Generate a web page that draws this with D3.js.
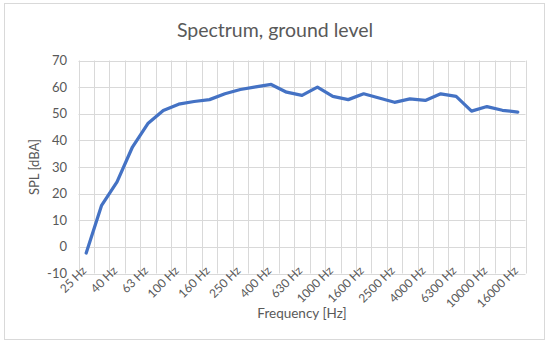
<!DOCTYPE html>
<html><head><meta charset="utf-8">
<script src="https://cdn.jsdelivr.net/npm/d3@7"></script>
<style>body{margin:0;background:#fff}svg{display:block}text{font-family:Lato,"Open Sans",sans-serif;fill:#595959}</style>
</head><body><svg id="c" width="550" height="346"></svg>
<script>
const categories = ["25 Hz","31.5 Hz","40 Hz","50 Hz","63 Hz","80 Hz","100 Hz","125 Hz","160 Hz","200 Hz","250 Hz","315 Hz","400 Hz","500 Hz","630 Hz","800 Hz","1000 Hz","1250 Hz","1600 Hz","2000 Hz","2500 Hz","3150 Hz","4000 Hz","5000 Hz","6300 Hz","8000 Hz","10000 Hz","12500 Hz","16000 Hz"];
const splValues = [-2.3,15.6,24.4,37.5,46.3,51.2,53.6,54.6,55.3,57.5,59.1,60.1,61.0,58.1,56.9,60.0,56.5,55.3,57.5,55.9,54.3,55.6,55.0,57.5,56.5,51.0,52.7,51.3,50.6];
const yTicks = [-10,0,10,20,30,40,50,60,70];
const titleText = "Spectrum, ground level";
const xTitle = "Frequency [Hz]";
const yTitle = "SPL [dBA]";

const svg = d3.select("#c");
const L = 78.5, R = 525.5, T = 60.5, B = 273.5;
svg.append("rect").attr("x",4.5).attr("y",3.5).attr("width",540).attr("height",336)
  .attr("fill","#fff").attr("stroke","#d9d9d9");

const x = d3.scaleBand().domain(categories).range([L,R]).padding(0);
const y = d3.scaleLinear().domain([-10,70]).range([B,T]);

const g = svg.append("g");
g.selectAll(".hg").data(yTicks).join("line")
  .attr("x1",L).attr("x2",R).attr("y1",d=>Math.round(y(d))+0.5).attr("y2",d=>Math.round(y(d))+0.5)
  .attr("stroke","#d9d9d9").attr("stroke-width",1);
const bounds = categories.map(c=>x(c)).concat([x(categories[categories.length-1])+x.bandwidth()]);
g.selectAll(".vg").data(bounds).join("line")
  .attr("x1",d=>Math.round(d)+0.5).attr("x2",d=>Math.round(d)+0.5).attr("y1",T).attr("y2",B)
  .attr("stroke","#d9d9d9").attr("stroke-width",1);

g.selectAll(".yl").data(yTicks).join("text")
  .attr("x",67).attr("y",d=>y(d)).attr("dy","0.35em").attr("text-anchor","end")
  .attr("font-size",13).text(d=>d);

g.selectAll(".xl").data(categories.filter((c,i)=>i%2===0)).join("text")
  .attr("text-anchor","end").attr("font-size",12)
  .attr("transform",d=>`translate(${x(d)+x.bandwidth()/2+1},${B-2}) rotate(-45)`)
  .text(d=>d);

const line = d3.line().x((d,i)=>x(categories[i])+x.bandwidth()/2).y(d=>y(d));
g.append("path").datum(splValues).attr("d",line).attr("fill","none")
  .attr("stroke","#4472C4").attr("stroke-width",3.25).attr("stroke-linejoin","round").attr("stroke-linecap","round");

svg.append("text").attr("x",275).attr("y",37).attr("text-anchor","middle").attr("font-size",19.5).text(titleText);
svg.append("text").attr("x",(L+R)/2).attr("y",318).attr("text-anchor","middle").attr("font-size",13.5).text(xTitle);
svg.append("text").attr("transform",`translate(39,${(T+B)/2}) rotate(-90)`).attr("text-anchor","middle").attr("font-size",13).text(yTitle);
</script></body></html>
